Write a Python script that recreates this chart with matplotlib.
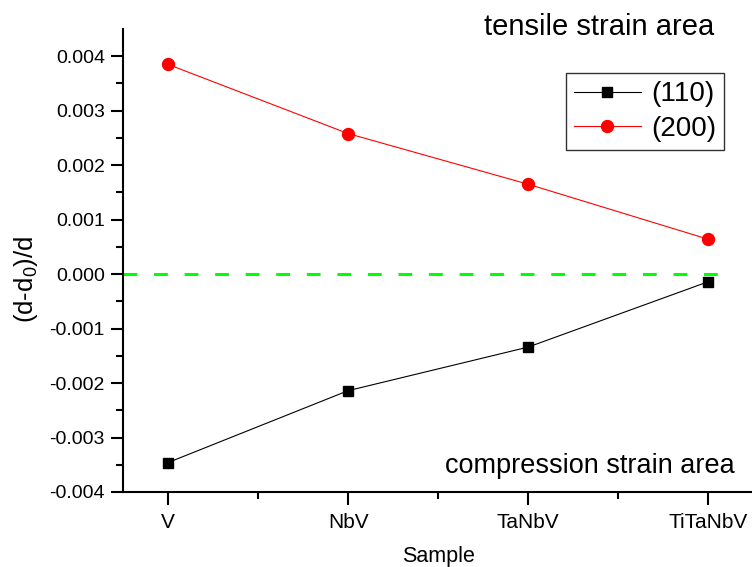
import matplotlib
matplotlib.use("Agg")
import matplotlib.pyplot as plt
import numpy as np

plt.rcParams["font.family"] = ["Liberation Sans", "DejaVu Sans"]
plt.rcParams["mathtext.default"] = "regular"

samples = ["V", "NbV", "TaNbV", "TiTaNbV"]
strain_110 = [-0.00346, -0.00214, -0.00134, -0.00014]
strain_200 = [0.00385, 0.00258, 0.00165, 0.00064]
y_ticks = [-0.004, -0.003, -0.002, -0.001, 0.0, 0.001, 0.002, 0.003, 0.004]

fig = plt.figure(figsize=(7.52, 5.67), dpi=100)
ax = fig.add_axes([0.1636, 0.1323, 0.8380, 0.8166])

x = np.arange(len(samples))

# zero-strain reference line
ax.hlines(0, -0.25, 3.13, colors="#00ff00", linewidth=2.2,
          linestyles=(0, (4.5, 5.5)), zorder=1)

ax.plot(x, strain_110, color="black", linewidth=0.8, marker="s",
        markersize=7, label="(110)", zorder=3)
ax.plot(x, strain_200, color="red", linewidth=0.8, marker="o",
        markersize=8.6, label="(200)", zorder=3)

ax.set_xlim(-0.25, 3.25)
ax.set_ylim(-0.004, 0.0045)
ax.set_xticks(x)
ax.set_xticklabels(samples)
ax.set_xticks([0.5, 1.5, 2.5], minor=True)
ax.set_yticks(y_ticks)
ax.set_yticklabels([f"{v:.3f}" for v in y_ticks])
ax.set_yticks(np.array(y_ticks[:-1]) + 0.0005, minor=True)

for side in ("top", "right"):
    ax.spines[side].set_visible(False)
for side in ("left", "bottom"):
    ax.spines[side].set_linewidth(1.5)

ax.tick_params(which="major", direction="out", length=9, width=1.5)
ax.tick_params(which="minor", direction="out", length=5, width=1.5)
ax.tick_params(axis="y", labelsize=14, pad=4)
ax.tick_params(axis="x", labelsize=15, pad=6)

ax.set_xlabel("Sample", fontsize=15.5)
ax.xaxis.set_label_coords(0.5, -0.151)
ax.xaxis.label.set_verticalalignment("baseline")
ax.set_ylabel("(d-d$_0$)/d", fontsize=18.5)
ax.yaxis.set_label_coords(-0.154, 0.46)
ax.yaxis.label.set_verticalalignment("center")
ax.yaxis.label.set_horizontalalignment("center")

ax.text(0.938, 0.987, "tensile strain area", transform=ax.transAxes,
        fontsize=21, ha="right", va="baseline")
ax.text(0.97, 0.04, "compression strain area", transform=ax.transAxes,
        fontsize=19.5, ha="right", va="baseline")

leg = ax.legend(loc="upper right", bbox_to_anchor=(0.954, 0.905),
                fontsize=20, frameon=True, fancybox=False,
                handlelength=2.4, handletextpad=0.36, borderpad=0.3,
                labelspacing=0.3, borderaxespad=0)
leg.get_frame().set_edgecolor("black")
leg.get_frame().set_linewidth(1.0)

fig.savefig("out.png", dpi=100)
